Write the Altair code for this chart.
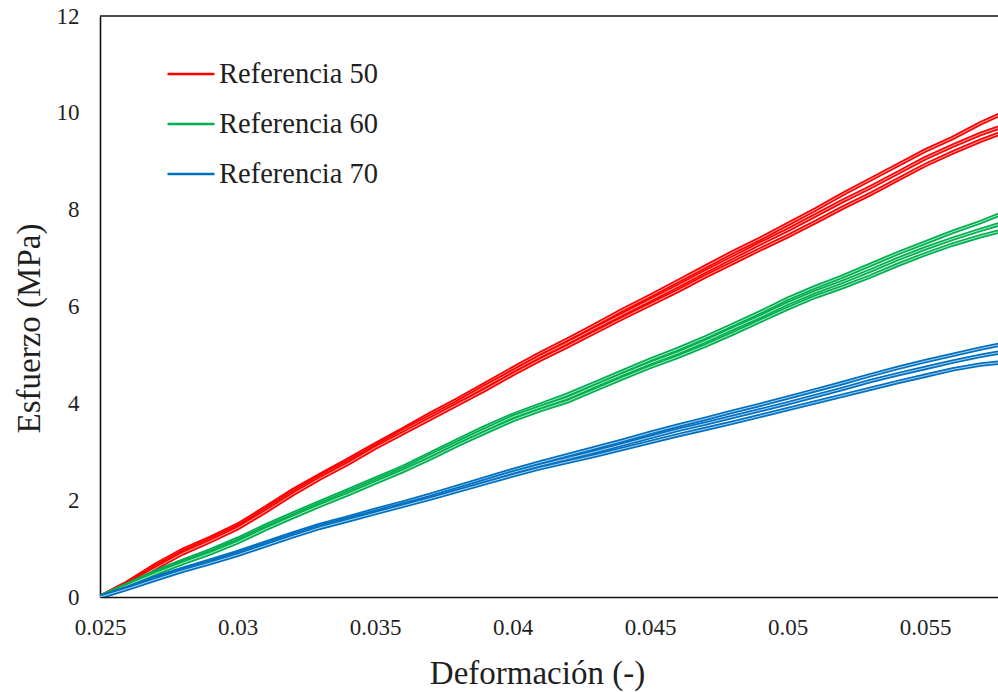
import altair as alt
import pandas as pd

# Deformación (-) sample positions
deformacion = [0.025, 0.026, 0.027, 0.028, 0.029, 0.030, 0.031, 0.032, 0.033, 0.034,
               0.035, 0.036, 0.037, 0.038, 0.039, 0.040, 0.041, 0.042, 0.043, 0.044,
               0.045, 0.046, 0.047, 0.048, 0.049, 0.050, 0.051, 0.052, 0.053, 0.054,
               0.055, 0.056, 0.057, 0.0577]

# Referencia 50 (three specimens)
ref50_a = [0, 0.30, 0.66, 0.97, 1.22, 1.49, 1.84, 2.20, 2.52, 2.83, 3.15, 3.46, 3.78, 4.08, 4.40, 4.72, 5.03, 5.32, 5.62, 5.93,
           6.22, 6.52, 6.82, 7.12, 7.40, 7.70, 8.00, 8.32, 8.62, 8.92, 9.22, 9.48, 9.78, 9.96]
ref50_b = [0, 0.28, 0.62, 0.93, 1.19, 1.45, 1.80, 2.16, 2.49, 2.79, 3.11, 3.43, 3.73, 4.03, 4.35, 4.66, 4.97, 5.25, 5.55, 5.84,
           6.13, 6.42, 6.72, 7.01, 7.30, 7.58, 7.88, 8.18, 8.46, 8.76, 9.06, 9.32, 9.56, 9.70]
ref50_c = [0, 0.26, 0.59, 0.90, 1.15, 1.42, 1.76, 2.12, 2.45, 2.75, 3.08, 3.38, 3.68, 3.98, 4.28, 4.60, 4.90, 5.18, 5.47, 5.76,
           6.04, 6.32, 6.62, 6.90, 7.18, 7.45, 7.74, 8.04, 8.32, 8.62, 8.92, 9.18, 9.42, 9.57]

# Referencia 60
ref60_a = [0, 0.26, 0.52, 0.75, 0.96, 1.20, 1.47, 1.72, 1.96, 2.20, 2.44, 2.68, 2.96, 3.24, 3.51, 3.76, 3.97, 4.18, 4.42, 4.66,
           4.90, 5.12, 5.36, 5.62, 5.88, 6.16, 6.40, 6.62, 6.86, 7.10, 7.32, 7.54, 7.74, 7.90]
ref60_b = [0, 0.25, 0.50, 0.72, 0.93, 1.16, 1.43, 1.68, 1.92, 2.16, 2.40, 2.64, 2.92, 3.19, 3.46, 3.72, 3.92, 4.11, 4.36, 4.60,
           4.83, 5.04, 5.28, 5.54, 5.79, 6.06, 6.30, 6.51, 6.74, 6.98, 7.20, 7.40, 7.58, 7.70]
ref60_c = [0, 0.24, 0.48, 0.70, 0.90, 1.13, 1.40, 1.65, 1.89, 2.12, 2.36, 2.60, 2.86, 3.14, 3.40, 3.65, 3.86, 4.04, 4.28, 4.52,
           4.75, 4.96, 5.19, 5.44, 5.70, 5.96, 6.20, 6.40, 6.62, 6.86, 7.08, 7.28, 7.45, 7.55]

# Referencia 70
ref70_a = [0, 0.19, 0.40, 0.58, 0.75, 0.93, 1.12, 1.31, 1.49, 1.64, 1.80, 1.95, 2.11, 2.28, 2.45, 2.62, 2.78, 2.93, 3.08, 3.23,
           3.39, 3.54, 3.68, 3.83, 3.97, 4.12, 4.27, 4.42, 4.58, 4.73, 4.87, 5.00, 5.13, 5.21]
ref70_b = [0, 0.18, 0.38, 0.56, 0.72, 0.90, 1.09, 1.28, 1.46, 1.61, 1.76, 1.91, 2.06, 2.23, 2.40, 2.57, 2.72, 2.86, 3.00, 3.15,
           3.30, 3.45, 3.58, 3.72, 3.86, 4.00, 4.15, 4.30, 4.46, 4.60, 4.73, 4.86, 4.98, 5.05]
ref70_c = [0, 0.17, 0.36, 0.54, 0.70, 0.87, 1.06, 1.25, 1.43, 1.58, 1.73, 1.88, 2.03, 2.19, 2.35, 2.51, 2.66, 2.79, 2.92, 3.06,
           3.20, 3.34, 3.47, 3.60, 3.74, 3.88, 4.02, 4.16, 4.30, 4.44, 4.57, 4.70, 4.80, 4.84]

series_names = ["Referencia 50", "Referencia 60", "Referencia 70"]
series_colors = ["#FF0000", "#00B050", "#0070C0"]
x_ticks = [0.025, 0.03, 0.035, 0.04, 0.045, 0.05, 0.055]
y_ticks = [0, 2, 4, 6, 8, 10, 12]

curves = [
    ("Referencia 50", "a", ref50_a), ("Referencia 50", "b", ref50_b), ("Referencia 50", "c", ref50_c),
    ("Referencia 60", "a", ref60_a), ("Referencia 60", "b", ref60_b), ("Referencia 60", "c", ref60_c),
    ("Referencia 70", "a", ref70_a), ("Referencia 70", "b", ref70_b), ("Referencia 70", "c", ref70_c),
]

rows = []
for name, rep, ys in curves:
    for xv, yv in zip(deformacion, ys):
        rows.append({"x": xv, "y": yv, "serie": name, "curva": name + rep})
df = pd.DataFrame(rows)

FONT = "Liberation Serif"
TXT = "#1f1f1f"
x_scale = alt.Scale(domain=[0.025, 0.05765], nice=False, zero=False)
y_scale = alt.Scale(domain=[0, 12], nice=False)

x_axis = alt.Axis(values=x_ticks, format="~g", title="Deformación  (-)",
                  labelPadding=37, labelBaseline="alphabetic",
                  titleX=437, titleY=86, titleBaseline="alphabetic", titleAlign="center")
y_axis = alt.Axis(values=y_ticks, title="Esfuerzo (MPa)",
                  labelPadding=21,
                  titleAngle=270, titleX=-61, titleY=312, titleAlign="center", titleBaseline="alphabetic")

legend = alt.Legend(title=None, orient="none", legendX=66, legendY=33, padding=0,
                    symbolType="stroke", symbolSize=2209, symbolStrokeWidth=2.6,
                    labelFont=FONT, labelFontSize=28.5, labelColor=TXT, labelOffset=3,
                    rowPadding=10, labelLimit=400)

layers = []
first = True
for name, rep, ys in curves:
    sub = alt.Chart(df).transform_filter(alt.datum.curva == name + rep)
    if first:
        enc_x = alt.X("x:Q", scale=x_scale, axis=x_axis)
        enc_y = alt.Y("y:Q", scale=y_scale, axis=y_axis)
        first = False
    else:
        enc_x = alt.X("x:Q", scale=x_scale)
        enc_y = alt.Y("y:Q", scale=y_scale)
    colored = sub.mark_line(strokeWidth=4.4, clip=True).encode(
        x=enc_x, y=enc_y,
        color=alt.Color("serie:N", scale=alt.Scale(domain=series_names, range=series_colors),
                        legend=legend),
    )
    core = sub.mark_line(strokeWidth=0.9, clip=True, color="white", opacity=0.75).encode(
        x=alt.X("x:Q", scale=x_scale), y=alt.Y("y:Q", scale=y_scale)
    )
    layers.append(colored)
    layers.append(core)

top_border = alt.Chart(pd.DataFrame({"y": [12]})).mark_rule(color="#111111", strokeWidth=1.6).encode(
    y=alt.Y("y:Q", scale=y_scale)
)
layers.append(top_border)

chart = alt.layer(*layers).properties(
    width=898, height=581,
    autosize=alt.AutoSizeParams(type="none"),
    padding={"left": 100, "top": 16, "right": 0, "bottom": 95},
).configure(font=FONT).configure_view(stroke=None).configure_axis(
    grid=False, ticks=False, labelFont=FONT, labelFontSize=23, labelColor=TXT,
    titleFont=FONT, titleFontSize=33, titleFontWeight="normal", titleColor=TXT,
    domainColor="#111111", domainWidth=1.6, labelFlush=False, labelOverlap=False,
).configure_legend(
    labelFont=FONT, labelFontSize=28.5, labelColor=TXT,
)

chart.save("out.html", embed_options={"renderer": "svg", "actions": False})
